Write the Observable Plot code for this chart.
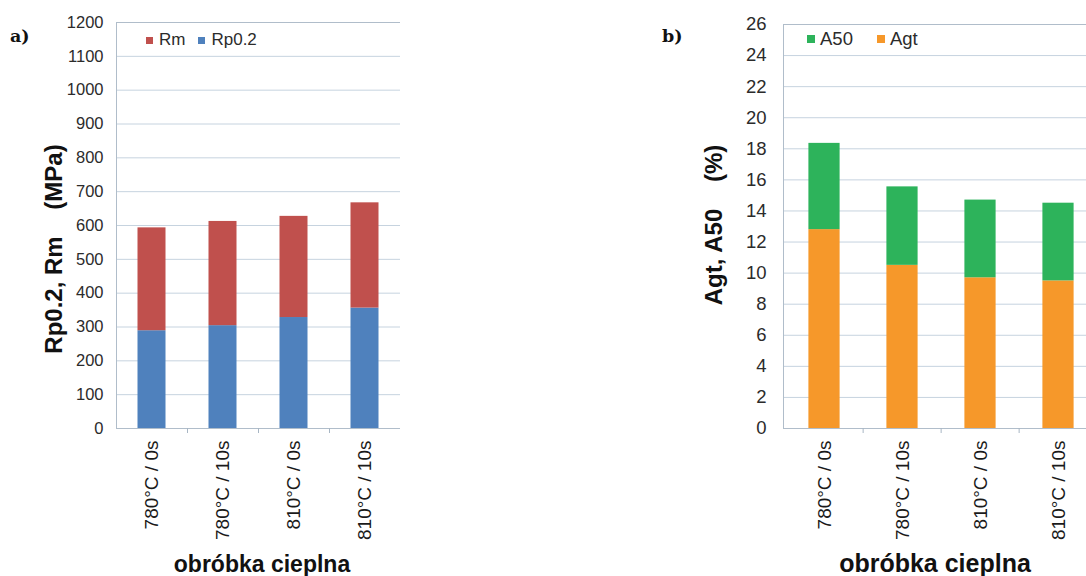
<!DOCTYPE html>
<html><head><meta charset="utf-8">
<script src="https://cdn.jsdelivr.net/npm/d3@7"></script>
<script src="https://cdn.jsdelivr.net/npm/@observablehq/plot@0.6"></script>
<style>
html,body{margin:0;padding:0;background:#fff;}
#wrap{position:relative;width:1086px;height:576px;overflow:hidden;background:#fff;font-family:"Liberation Sans",Arial,sans-serif;}
.panel{position:absolute;top:0;}
.ytitle{position:absolute;font-weight:bold;font-size:24px;white-space:pre;transform:translate(-50%,-50%) rotate(-90deg);color:#111;line-height:1;}
.xtitle{position:absolute;font-weight:bold;white-space:pre;transform:translateX(-50%);color:#111;line-height:1;}
.tag{position:absolute;font-family:"DejaVu Serif",serif;font-weight:bold;font-size:17.5px;line-height:1;color:#111;}
.leg{position:absolute;}
.lgL-swatches,.lgR-swatches{font-family:"Liberation Sans",Arial,sans-serif !important;color:#2b2b2b !important;margin:0 !important;min-height:0 !important;line-height:20px;}
.lgL-swatches{font-size:17px !important;}
.lgR-swatches{font-size:18.5px !important;}
.lgL-swatch{margin-right:13px !important;}
.lgL-swatch > svg{margin-right:6px !important;}
.lgR-swatch{margin-right:24px !important;}
.lgR-swatch > svg{margin-right:5px !important;}
</style></head><body><div id="wrap"></div>
<script>
// ---- data ----
const categories = ["780°C / 0s", "780°C / 10s", "810°C / 0s", "810°C / 10s"];
const rp02 = [289, 304, 328, 356];      // MPa
const rm = [593, 612, 627, 667];        // MPa
const agt = [12.8, 10.5, 9.7, 9.5];     // %
const a50 = [18.35, 15.55, 14.7, 14.5]; // %
const strengthSeries = ["Rm", "Rp0.2"];
const elongSeries = ["A50", "Agt"];
const strengthTicks = [0, 100, 200, 300, 400, 500, 600, 700, 800, 900, 1000, 1100, 1200];
const elongTicks = [0, 2, 4, 6, 8, 10, 12, 14, 16, 18, 20, 22, 24, 26];

const strengthColors = ["#c0504d", "#4f81bd"];
const elongColors = ["#2db35b", "#f6982a"];

const wrap = document.getElementById("wrap");
const font = "Liberation Sans, Arial, sans-serif";

function panel({left, width, marginLeft, marginTop, yMax, ticks, yFont, yPad, bars, series, colors, inset}) {
  const step = (width - marginLeft) / categories.length;
  const p = Plot.plot({
    width, height: 576,
    marginLeft, marginRight: 0, marginTop, marginBottom: 148,
    x: {domain: categories, padding: 0, axis: null},
    y: {domain: [0, yMax], axis: null},
    color: {domain: series, range: colors},
    style: {fontFamily: font, background: "transparent", color: "#2b2b2b"},
    marks: [
      Plot.gridY(ticks, {stroke: "#c6d3df", strokeOpacity: 1}),
      Plot.barY(bars, {x: "cat", y1: "lo", y2: "hi", fill: "s", insetLeft: inset, insetRight: inset}),
      Plot.frame({stroke: "#b0bdca"}),
      Plot.ruleX(categories.slice(1), {x: d => d, y1: () => 0, y2: () => 0, insetBottom: -5, dx: -step / 2, stroke: "#a8b6c4"}),
      Plot.axisY(ticks, {tickSize: 0, tickPadding: yPad, fontSize: yFont, label: null, fill: "#2b2b2b", tickFormat: d => String(d)}),
      Plot.axisX({tickRotate: -90, tickSize: 0, tickPadding: 12, fontSize: 19, label: null, fill: "#1a1a1a"})
    ]
  });
  p.classList.add("panel");
  p.style.left = left + "px";
  wrap.appendChild(p);
}

const leftBars = categories.map((c, i) => ({cat: c, lo: 0, hi: rp02[i], s: "Rp0.2"}))
  .concat(categories.map((c, i) => ({cat: c, lo: rp02[i], hi: rm[i], s: "Rm"})));
const rightBars = categories.map((c, i) => ({cat: c, lo: 0, hi: agt[i], s: "Agt"}))
  .concat(categories.map((c, i) => ({cat: c, lo: agt[i], hi: a50[i], s: "A50"})));

// left panel: plot area x 116..400
panel({left: 0, width: 400, marginLeft: 116, marginTop: 22, yMax: 1200, ticks: strengthTicks,
  yFont: 16.5, yPad: 13, bars: leftBars, series: strengthSeries, colors: strengthColors, inset: 21.5});
// right panel: plot area x 783..1098 (clipped at 1086)
panel({left: 640, width: 458, marginLeft: 143, marginTop: 24, yMax: 26, ticks: elongTicks,
  yFont: 18.5, yPad: 17, bars: rightBars, series: elongSeries, colors: elongColors, inset: 23.4});

function addDiv(cls, text, css) {
  const d = document.createElement("div");
  d.className = cls;
  d.textContent = text;
  Object.assign(d.style, css);
  wrap.appendChild(d);
  return d;
}

addDiv("tag", "a)", {left: "10px", top: "28px"});
addDiv("tag", "b)", {left: "662px", top: "28px"});
addDiv("ytitle", "Rp0.2, Rm    (MPa)", {left: "53.5px", top: "249px"});
addDiv("ytitle", "Agt, A50    (%)", {left: "714px", top: "225px"});
addDiv("xtitle", "obróbka cieplna", {left: "262px", top: "552.5px", fontSize: "23px"});
addDiv("xtitle", "obróbka cieplna", {left: "935px", top: "551px", fontSize: "25px"});

function addLegend(series, colors, cls, left, top, size) {
  const lg = Plot.legend({color: {domain: series, range: colors}, legend: "swatches", swatchSize: size, className: cls});
  const holder = document.createElement("div");
  holder.className = "leg";
  holder.style.left = left + "px";
  holder.style.top = top + "px";
  holder.appendChild(lg);
  wrap.appendChild(holder);
}
addLegend(strengthSeries, strengthColors, "lgL", 146, 30, 7);
addLegend(elongSeries, elongColors, "lgR", 807, 29, 8);
</script></body></html>
